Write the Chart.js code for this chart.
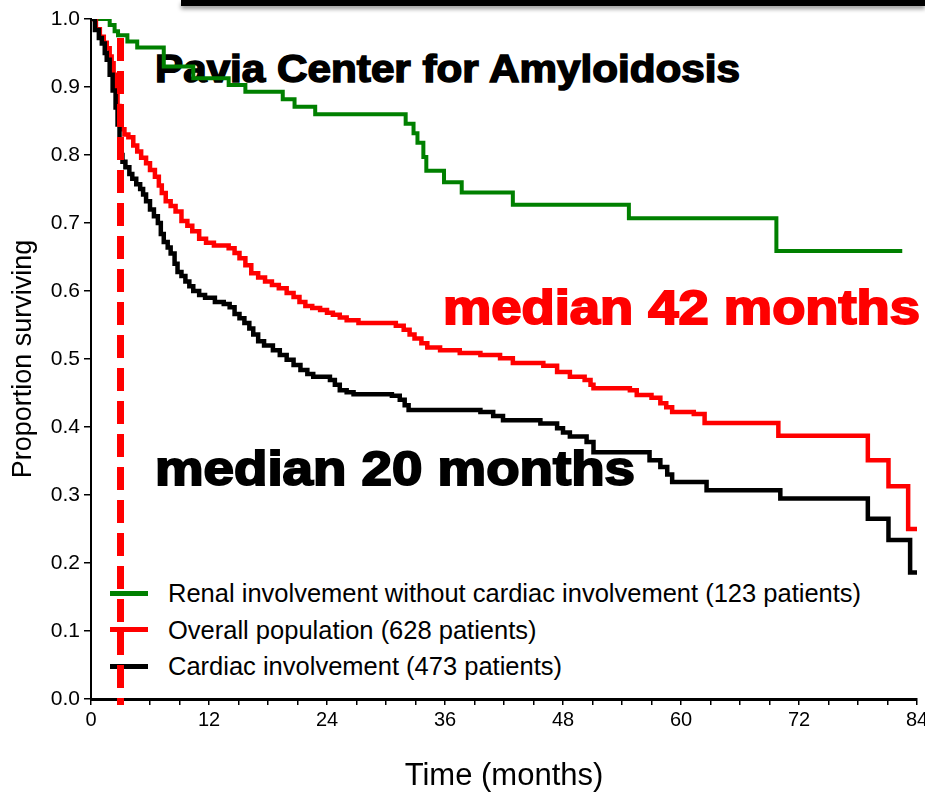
<!DOCTYPE html>
<html>
<head>
<meta charset="utf-8">
<title>Pavia Center for Amyloidosis - survival</title>
<script src="https://cdn.jsdelivr.net/npm/chart.js@4.4.1/dist/chart.umd.min.js"></script>
<style>
    html, body { margin: 0; padding: 0; background: #fff; overflow: hidden; }
    #wrap { position: relative; width: 925px; height: 795px; }
    #chartBox { position: absolute; left: 0; top: 0; width: 925px; height: 795px; z-index: 2; }
    #topBar { position: absolute; left: 181px; top: 0; width: 744px; height: 6px; background: #000;
              box-shadow: 0 3px 4px rgba(0, 0, 0, 0.4); z-index: 3; }
    .note { position: absolute; z-index: 1; white-space: nowrap; line-height: 1;
            font-family: "Liberation Sans", Arial, sans-serif; font-weight: bold; transform-origin: 0 0; }
    #title { left: 155px; top: 50px; font-size: 38px; color: #000; -webkit-text-stroke: 1.5px #000; }
    #median42 { left: 443px; top: 284px; font-size: 48px; color: #ff0000; -webkit-text-stroke: 2px #ff0000; }
    #median20 { left: 155px; top: 445px; font-size: 48px; color: #000; -webkit-text-stroke: 2px #000; }
    .legLine { position: absolute; left: 110px; width: 38px; height: 5px; z-index: 1; }
    .legText { position: absolute; left: 168px; height: 26px; line-height: 26px; font-size: 25.5px; z-index: 1;
               font-family: "Liberation Sans", Arial, sans-serif; color: #000; white-space: nowrap; }
</style>
</head>
<body>
<div id="wrap">
    <div id="topBar"></div>
    <div class="note" id="title">Pavia Center for Amyloidosis</div>
    <div class="note" id="median42">median 42 months</div>
    <div class="note" id="median20">median 20 months</div>
    <div id="legend"></div>
    <div id="chartBox"><canvas id="km"></canvas></div>
</div>

<script>
// ---------------- DONNEES ----------------

// Atteinte rénale sans atteinte cardiaque (123 patients)
const renalMonths   = [0, 1.9, 2.4, 2.75, 3.7, 4.7, 7.4, 10.4, 14.0, 15.7, 19.5, 20.7, 22.8, 32.0, 32.8, 33.2, 33.8, 34.1, 35.9, 37.7, 42.9, 54.7, 69.7, 82.5];
const renalSurvival = [1.0, 0.991, 0.982, 0.976, 0.967, 0.958, 0.930, 0.913, 0.903, 0.893, 0.882, 0.871, 0.860, 0.846, 0.832, 0.818, 0.797, 0.777, 0.760, 0.745, 0.727, 0.707, 0.659, 0.659];

// Population totale (628 patients)
const overallMonths = [0, 0.5, 0.9, 1.3, 1.6, 1.9, 2.1, 2.3, 2.5, 2.7, 2.9, 3.1, 3.4, 3.8, 4.3, 4.7, 5.1, 5.6, 6.0, 6.5,
    6.9, 7.2, 7.6, 8.1, 8.6, 9.2, 9.8, 10.3, 11.0, 11.7, 12.5, 14.0, 14.6, 15.1, 15.7, 16.3, 17.0, 17.7, 18.4, 19.1,
    19.9, 20.6, 21.2, 21.8, 22.5, 23.3, 24.0, 24.6, 25.3, 26.0, 27.2, 31.0, 31.8, 32.4, 32.9, 33.6, 34.2, 35.5, 37.5, 39.6,
    41.6, 42.9, 46.0, 47.4, 48.7, 50.2, 50.8, 51.1, 54.8, 55.5, 57.0, 57.9, 58.5, 59.1, 61.3, 62.4, 69.9, 79.0, 81.1, 83.1, 84];
const overallSurvival = [1.0, 0.985, 0.974, 0.965, 0.957, 0.945, 0.935, 0.918, 0.898, 0.872, 0.850, 0.838, 0.830, 0.826, 0.814, 0.805, 0.796, 0.788, 0.778, 0.768,
    0.755, 0.744, 0.732, 0.725, 0.717, 0.703, 0.696, 0.688, 0.677, 0.671, 0.667, 0.663, 0.656, 0.648, 0.638, 0.626, 0.620, 0.614, 0.609, 0.604,
    0.597, 0.591, 0.584, 0.578, 0.575, 0.572, 0.568, 0.565, 0.561, 0.557, 0.553, 0.549, 0.543, 0.536, 0.530, 0.523, 0.517, 0.513, 0.509, 0.506,
    0.501, 0.494, 0.490, 0.481, 0.474, 0.469, 0.462, 0.457, 0.454, 0.447, 0.443, 0.435, 0.429, 0.422, 0.419, 0.406, 0.387, 0.351, 0.313, 0.250, 0.250];

// Atteinte cardiaque (473 patients)
const cardiacMonths = [0, 0.4, 0.8, 1.1, 1.4, 1.6, 1.9, 2.2, 2.5, 2.7, 2.9, 3.2, 3.5, 3.9, 4.2, 4.6, 5.0, 5.3, 5.6, 6.0,
    6.4, 6.8, 7.1, 7.4, 7.8, 8.1, 8.5, 8.8, 9.2, 9.6, 10.0, 10.4, 11.0, 11.6, 12.6, 13.5, 14.1, 14.6, 15.1, 15.6,
    16.1, 16.5, 17.0, 17.6, 18.5, 19.2, 19.9, 20.6, 21.3, 22.0, 22.6, 24.3, 24.8, 25.3, 26.0, 26.7, 30.6, 31.4, 31.9, 32.3,
    39.6, 40.9, 41.9, 45.7, 47.4, 48.0, 48.7, 50.4, 51.1, 56.8, 57.9, 58.6, 59.1, 62.6, 70.1, 79.0, 81.1, 83.3, 84];
const cardiacSurvival = [1.0, 0.984, 0.972, 0.964, 0.950, 0.940, 0.918, 0.895, 0.870, 0.845, 0.800, 0.790, 0.782, 0.772, 0.765, 0.757, 0.750, 0.742, 0.732, 0.720,
    0.710, 0.700, 0.684, 0.672, 0.664, 0.655, 0.640, 0.628, 0.622, 0.614, 0.607, 0.600, 0.594, 0.590, 0.584, 0.581, 0.576, 0.566, 0.560, 0.553,
    0.545, 0.536, 0.526, 0.520, 0.513, 0.506, 0.499, 0.491, 0.484, 0.478, 0.474, 0.469, 0.462, 0.454, 0.451, 0.448, 0.446, 0.440, 0.432, 0.425,
    0.422, 0.416, 0.410, 0.405, 0.398, 0.392, 0.386, 0.378, 0.363, 0.351, 0.341, 0.330, 0.319, 0.307, 0.295, 0.265, 0.234, 0.186, 0.186];

// Ligne verticale pointillée (mois 3)
const markerMonth = 3;
const markerRange = [0.972, -0.009];

// Axes
const xMax = 84;
const xMinorStep = 3;
const xLabelStep = 12;


// ---------------- GRAPH ----------------
const FONT = '"Liberation Sans", Arial, sans-serif';
Chart.defaults.font.family = FONT;
Chart.defaults.color = '#000';

function toPoints(months, values) {
    return months.map((m, i) => ({ x: m, y: values[i] }));
}

const ctx = document.getElementById('km');
const chart = new Chart(ctx, {
    type: 'line',
    data: {
        datasets: [
            {
                label: 'Renal involvement without cardiac involvement (123 patients)',
                data: toPoints(renalMonths, renalSurvival),
                borderColor: '#008000', backgroundColor: '#008000',
                borderWidth: 4, stepped: true, pointRadius: 0, order: 3
            },
            {
                label: 'Overall population (628 patients)',
                data: toPoints(overallMonths, overallSurvival),
                borderColor: '#ff0000', backgroundColor: '#ff0000',
                borderWidth: 4.5, stepped: true, pointRadius: 0, order: 2
            },
            {
                label: 'Cardiac involvement (473 patients)',
                data: toPoints(cardiacMonths, cardiacSurvival),
                borderColor: '#000000', backgroundColor: '#000000',
                borderWidth: 4.5, stepped: true, pointRadius: 0, order: 1
            },
            {
                label: '',
                data: markerRange.map(v => ({ x: markerMonth, y: v })),
                borderColor: '#ff0000', borderWidth: 7, borderDash: [23, 10],
                pointRadius: 0, order: 0, clip: false
            }
        ]
    },
    options: {
        responsive: true,
        maintainAspectRatio: false,
        animation: false,
        layout: { padding: { left: 0, right: 8, top: 19, bottom: 0 } },
        plugins: {
            legend: { display: false },
            tooltip: { enabled: false }
        },
        scales: {
            x: {
                type: 'linear', min: 0, max: xMax,
                afterFit(scale) {
                    scale.height = 96;
                    scale.paddingRight = 0;
                    scale.paddingLeft = 0;
                },
                ticks: {
                    stepSize: xMinorStep, autoSkip: false, maxRotation: 0, padding: 3,
                    font: { size: 20 },
                    callback: (v) => (v % xLabelStep === 0 ? v : '')
                },
                grid: { drawOnChartArea: false, color: '#000', tickLength: 6, lineWidth: 1.5 },
                border: { color: '#000', width: 3 },
                title: { display: true, text: 'Time (months)', font: { size: 31 }, padding: 0 }
            },
            y: {
                min: 0, max: 1,
                afterFit(scale) { scale.width = 91; },
                ticks: {
                    stepSize: 0.1, padding: 4,
                    font: { size: 21 },
                    callback: (v) => v.toFixed(1)
                },
                grid: { drawOnChartArea: false, color: '#000', tickLength: 7, lineWidth: 1.5 },
                border: { color: '#000', width: 2 },
                title: { display: true, text: 'Proportion surviving', font: { size: 27 }, padding: { top: 7, bottom: 0 } }
            }
        }
    }
});

// ---------------- LEGENDE ----------------
const legend = document.getElementById('legend');
chart.data.datasets.filter(ds => ds.label).forEach((ds, i) => {
    const center = 593 + i * 36.5;
    const line = document.createElement('div');
    line.className = 'legLine';
    line.style.top = (center - 2.5) + 'px';
    line.style.background = ds.borderColor;
    const text = document.createElement('div');
    text.className = 'legText';
    text.style.top = (center - 13) + 'px';
    text.textContent = ds.label;
    legend.appendChild(line);
    legend.appendChild(text);
});

// Textes gras : on ajuste la largeur sur l'original
function fitWidth(id, width) {
    const el = document.getElementById(id);
    const w = el.getBoundingClientRect().width;
    if (w) el.style.transform = 'scaleX(' + (width / w) + ')';
}
fitWidth('title', 585);
fitWidth('median42', 477);
fitWidth('median20', 480);
</script>
</body>
</html>
